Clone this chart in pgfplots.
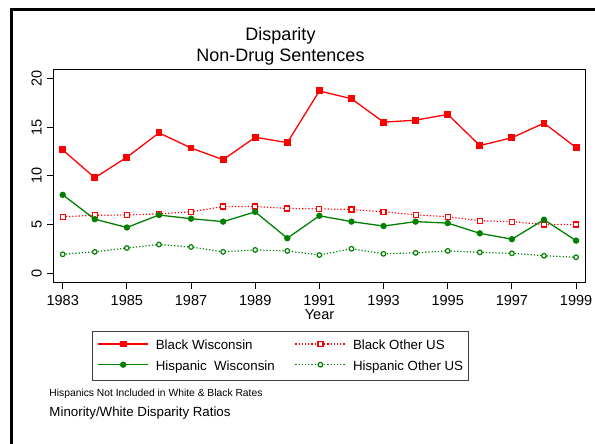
\documentclass[border=0pt]{standalone}
\usepackage{fontspec}
\setmainfont{Liberation Sans}
\usepackage{pgfplots}
\pgfplotsset{compat=1.18}
\definecolor{sred}{RGB}{255,0,0}
\definecolor{sgreen}{RGB}{0,128,0}
\begin{document}
\begin{tikzpicture}[x=1bp,y=1bp]
\useasboundingbox (0,0) rectangle (595,444);
\draw[line width=3bp] (11,0) -- (11,434.5) -- (595,434.5);
\node[anchor=base, inner sep=0pt, font=\fontsize{18bp}{20bp}\selectfont] at (280.5,403) {Disparity};
\node[anchor=base, inner sep=0pt, font=\fontsize{18bp}{20bp}\selectfont] at (280.5,382.5) {Non-Drug Sentences};
\begin{axis}[
  at={(53.3bp,161.3bp)}, anchor=south west,
  scale only axis, width=532.4bp, height=213.4bp,
  xmin=1982.707, xmax=1999.30, ymin=-0.96, ymax=20.92,
  xtick={1983,1985,...,1999}, ytick={0,5,10,15,20},
  tick pos=left, tick align=outside, major tick length=6bp,
  axis line style={line width=1bp, black},
  every tick/.style={black, line width=1bp},
  ticklabel style={font=\fontsize{14.5bp}{16bp}\selectfont},
  /pgf/number format/assume math mode=true,
  /pgf/number format/1000 sep={},
  xticklabel style={anchor=north, inner xsep=0pt, inner ysep=6.9bp},
  yticklabel style={rotate=90, anchor=south, inner xsep=0pt, inner ysep=5.3bp},
  legend columns=2,
  legend style={at={(0.0727,-0.2263)}, anchor=north west,
    draw=black!75, line width=1bp, inner xsep=5bp, inner ysep=6.5bp,
    font=\fontsize{13.3bp}{15bp}\selectfont,
    nodes={inner sep=0pt, text height=12bp, text depth=3bp, anchor=base west},
    /tikz/every odd column/.append style={column sep=7bp},
    /tikz/every even column/.append style={column sep=20bp},
    row sep=5.7bp},
  legend image code/.code={\draw[mark repeat=2,mark phase=2,#1] plot coordinates {(0bp,6bp)(25bp,6bp)(50bp,6bp)};},
]
\addplot[sred, line width=1.3bp, mark=square*, mark size=2.8bp, mark options={solid}] coordinates {
(1983,12.65) (1984,9.8) (1985,11.9) (1986,14.4) (1987,12.85) (1988,11.65) (1989,13.95) (1990,13.4)
(1991,18.7) (1992,17.9) (1993,15.5) (1994,15.7) (1995,16.3) (1996,13.1) (1997,13.9) (1998,15.4) (1999,12.9)};
\addlegendentry{Black Wisconsin}
\addplot[sred, line width=1.2bp, dash pattern=on 1.2bp off 2bp, mark=square*, mark size=2.5bp, mark options={solid, fill=white, line width=1.2bp}] coordinates {
(1983,5.8) (1984,5.95) (1985,5.98) (1986,6.1) (1987,6.3) (1988,6.85) (1989,6.85) (1990,6.65)
(1991,6.6) (1992,6.55) (1993,6.3) (1994,6.0) (1995,5.8) (1996,5.4) (1997,5.3) (1998,5.0) (1999,5.0)};
\addlegendentry{Black Other US}
\addplot[sgreen, line width=1.3bp, mark=*, mark size=2.5bp, mark options={solid}] coordinates {
(1983,8.05) (1984,5.55) (1985,4.7) (1986,5.98) (1987,5.6) (1988,5.3) (1989,6.3) (1990,3.6)
(1991,5.9) (1992,5.3) (1993,4.85) (1994,5.3) (1995,5.15) (1996,4.1) (1997,3.5) (1998,5.5) (1999,3.35)};
\addlegendentry{Hispanic\ \ Wisconsin}
\addplot[sgreen, line width=1.2bp, dash pattern=on 1.2bp off 2bp, mark=*, mark size=2.3bp, mark options={solid, fill=white, line width=1.2bp}] coordinates {
(1983,1.95) (1984,2.2) (1985,2.6) (1986,2.95) (1987,2.7) (1988,2.2) (1989,2.4) (1990,2.3)
(1991,1.88) (1992,2.52) (1993,2.0) (1994,2.1) (1995,2.3) (1996,2.15) (1997,2.05) (1998,1.8) (1999,1.65)};
\addlegendentry{Hispanic Other US}
\end{axis}
\node[anchor=base, inner sep=0pt, font=\fontsize{14.5bp}{16bp}\selectfont] at (319.5,124.7) {Year};
\node[anchor=base west, inner sep=0pt, font=\fontsize{10.3bp}{12bp}\selectfont] at (49.3,47) {Hispanics Not Included in White \& Black Rates};
\node[anchor=base west, inner sep=0pt, font=\fontsize{13.3bp}{15bp}\selectfont] at (49.3,27.3) {Minority/White Disparity Ratios};
\end{tikzpicture}
\end{document}
